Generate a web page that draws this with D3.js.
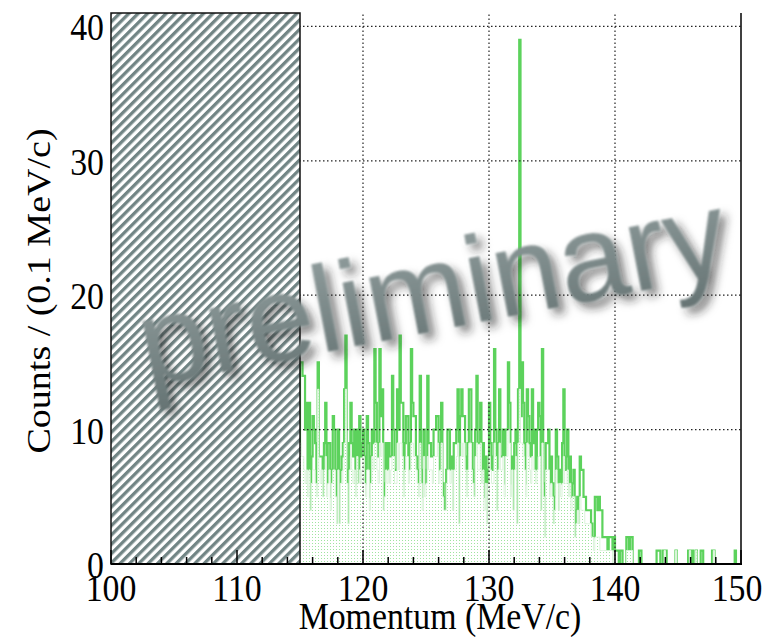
<!DOCTYPE html>
<html>
<head>
<meta charset="utf-8">
<script src="https://cdn.jsdelivr.net/npm/d3@7"></script>
<style>
  html, body { margin: 0; padding: 0; background: #fff; }
  svg { display: block; }
</style>
</head>
<body>
<svg id="chart" width="764" height="637"></svg>
<script>
// histogram bins: 0.1 MeV/c wide, starting at 115 MeV/c
const binStart = 115;
const binWidth = 0.1;

// all events (dark green outline)
const countsAll = [
  15,15,14,14,10,12,7,12,4,8,
  11,10,9,6,15,8,8,8,5,9,
  12,6,9,9,5,7,11,10,7,3,
  10,3,7,8,9,13,17,7,3,9,
  12,9,8,10,6,10,6,11,8,9,
  10,8,6,11,9,5,8,10,9,16,
  12,9,8,16,11,13,4,6,9,7,
  9,8,8,14,10,7,7,13,10,17,
  12,12,6,9,11,11,7,9,16,12,
  11,11,8,7,6,14,7,5,10,6,
  7,14,9,9,8,8,10,10,11,11,
  7,9,12,6,5,4,7,10,10,7,
  8,4,9,9,10,13,3,11,13,11,
  11,8,6,9,13,13,9,7,5,10,
  14,9,9,12,7,9,5,8,3,7,
  12,9,7,8,16,10,4,9,13,8,
  8,10,6,10,10,15,12,6,8,4,
  9,10,3,13,39,11,15,12,9,6,
  13,11,9,8,13,9,10,7,10,12,
  11,4,16,6,2,9,9,10,6,8,
  6,3,5,10,8,4,7,6,9,13,
  7,8,10,6,8,5,6,7,2,4,
  5,3,8,7,7,5,5,4,4,4,
  4,3,2,2,5,5,4,5,4,4,
  2,2,2,2,1,2,2,2,1,2,
  1,1,1,0,1,1,0,0,0,2,
  2,1,2,2,0,0,0,0,0,1,
  1,0,0,0,0,0,0,0,0,0,
  0,0,0,1,1,1,0,0,1,1,
  1,0,0,0,0,0,0,0,1,0,
  0,0,0,0,0,0,0,0,1,1,
  0,1,0,0,1,0,0,0,1,1,
  0,0,0,0,0,0,0,1,1,0,
  0,0,0,0,0,0,0,0,0,0,
  0,0,0,0,0,1,0,0,0,0
];

// selected events (light dotted fill)
const countsSel = [
  9,8,8,7,6,7,5,7,4,6,
  7,7,6,5,13,7,6,7,5,7,
  8,5,6,7,4,6,7,7,5,3,
  7,3,6,6,7,9,13,6,3,7,
  8,7,6,7,5,8,6,7,6,7,
  8,6,5,7,7,4,6,8,7,9,
  9,7,6,9,8,9,4,5,7,6,
  7,6,7,8,8,6,6,9,7,9,
  9,8,5,7,8,8,6,7,9,9,
  8,8,7,6,5,9,6,4,8,5,
  6,8,7,7,7,6,8,8,8,9,
  6,7,9,5,4,4,6,7,7,6,
  7,4,7,7,8,9,3,8,9,8,
  9,7,5,7,9,9,7,6,5,8,
  9,7,7,9,6,7,4,6,3,6,
  8,7,6,6,9,8,4,7,9,7,
  7,8,5,8,8,10,9,5,7,4,
  7,8,3,9,13,9,9,8,7,5,
  9,8,7,6,8,7,7,6,7,8,
  8,4,9,5,2,7,7,7,5,6,
  5,3,4,7,6,4,6,5,6,8,
  6,6,7,5,6,4,5,5,2,3,
  4,3,5,4,4,4,3,3,3,3,
  3,2,2,1,2,2,2,2,1,1,
  1,1,1,1,1,1,1,1,0,1,
  0,0,0,0,0,0,0,0,0,1,
  1,1,1,1,0,0,0,0,0,0,
  0,0,0,0,0,0,0,0,0,0,
  0,0,0,0,0,0,0,0,0,1,
  0,0,0,0,0,0,0,0,1,0,
  0,0,0,0,0,0,0,0,0,1,
  0,0,0,0,1,0,0,0,0,0,
  0,0,0,0,0,0,0,0,1,0,
  0,0,0,0,0,0,0,0,0,0,
  0,0,0,0,0,0,0,0,0,0
];

const xTicks = [100, 110, 120, 130, 140, 150];
const yTicks = [0, 10, 20, 30, 40];
const xDomain = [100, 150];
const yDomain = [0, 41];
const excluded = [100, 115]; // hatched region

const svg = d3.select("#chart");
const x = d3.scaleLinear().domain(xDomain).range([111, 741]);
const y = d3.scaleLinear().domain(yDomain).range([564, 13]);

const defs = svg.append("defs");

// hatch pattern "/"
const hatch = defs.append("pattern")
  .attr("id", "hatch")
  .attr("patternUnits", "userSpaceOnUse")
  .attr("width", 6.6).attr("height", 10)
  .attr("patternTransform", "rotate(45)");
hatch.append("rect").attr("width", 6.6).attr("height", 10).attr("fill", "#fff");
hatch.append("rect").attr("width", 3.3).attr("height", 10).attr("fill", "#728585");

// dotted fill pattern
const dots = defs.append("pattern")
  .attr("id", "dots")
  .attr("patternUnits", "userSpaceOnUse")
  .attr("width", 3).attr("height", 3);
dots.append("rect").attr("width", 3).attr("height", 3).attr("fill", "#fff");
dots.append("rect").attr("width", 1).attr("height", 1).attr("fill", "#9fe49f");

// shadow for watermark
const f = defs.append("filter").attr("id", "shadow")
  .attr("x", "-10%").attr("y", "-30%").attr("width", "120%").attr("height", "160%");
f.append("feGaussianBlur").attr("in", "SourceAlpha").attr("stdDeviation", 5).attr("result", "b");
f.append("feOffset").attr("in", "b").attr("dx", 5).attr("dy", 7).attr("result", "o");
f.append("feFlood").attr("flood-color", "#222").attr("flood-opacity", 0.6).attr("result", "c");
f.append("feComposite").attr("in", "c").attr("in2", "o").attr("operator", "in").attr("result", "s");
f.append("feGaussianBlur").attr("in", "SourceGraphic").attr("stdDeviation", 1.2).attr("result", "g");
const fm = f.append("feMerge");
fm.append("feMergeNode").attr("in", "s");
fm.append("feMergeNode").attr("in", "g");

const grad = defs.append("linearGradient").attr("id", "wmGrad")
  .attr("x1", 0).attr("y1", 0).attr("x2", 0).attr("y2", 1);
grad.append("stop").attr("offset", "0%").attr("stop-color", "#93a0a0");
grad.append("stop").attr("offset", "100%").attr("stop-color", "#667474");

// bin edges -> step points
function stepPoints(vals) {
  const pts = vals.map((v, i) => [binStart + i * binWidth, v]);
  pts.push([binStart + vals.length * binWidth, vals[vals.length - 1]]);
  return pts;
}

// all events, thick outline
const lineAll = d3.line()
  .x(d => x(d[0])).y(d => y(d[1]))
  .curve(d3.curveStepAfter);
const ptsAll = [[binStart, 0]].concat(stepPoints(countsAll));
ptsAll.push([binStart + countsAll.length * binWidth, 0]);
svg.append("path")
  .attr("d", lineAll(ptsAll))
  .attr("fill", "none")
  .attr("stroke", "#5cd25c")
  .attr("stroke-width", 2.2);

// selected events, dotted fill on top
const ptsSel = stepPoints(countsSel);
const areaSel = d3.area()
  .x(d => x(d[0])).y0(y(0)).y1(d => y(d[1]))
  .curve(d3.curveStepAfter);
svg.append("path")
  .attr("d", areaSel(ptsSel))
  .attr("fill", "url(#dots)");
svg.append("path")
  .attr("d", lineAll(ptsSel))
  .attr("fill", "none")
  .attr("stroke", "#dcf4dc")
  .attr("stroke-width", 1);

// grid
const grid = svg.append("g")
  .attr("stroke", "#222")
  .attr("stroke-width", 1.2)
  .attr("stroke-dasharray", "1.5,2.5");
grid.selectAll("line.gx").data(xTicks.slice(1, -1)).enter().append("line")
  .attr("x1", d => x(d)).attr("x2", d => x(d))
  .attr("y1", y(0)).attr("y2", y(yDomain[1]));
grid.selectAll("line.gy").data(yTicks.slice(1)).enter().append("line")
  .attr("x1", x(100)).attr("x2", x(150))
  .attr("y1", d => y(d)).attr("y2", d => y(d));

// hatched excluded region
svg.append("rect")
  .attr("x", x(excluded[0])).attr("y", y(yDomain[1]))
  .attr("width", x(excluded[1]) - x(excluded[0]))
  .attr("height", y(0) - y(yDomain[1]))
  .attr("fill", "url(#hatch)")
  .attr("stroke", "#111")
  .attr("stroke-width", 1.5);

// x axis ticks, pointing inside
const minor = d3.range(100, 151, 2);
svg.append("g").selectAll("line").data(minor).enter().append("line")
  .attr("x1", d => x(d)).attr("x2", d => x(d))
  .attr("y1", y(0))
  .attr("y2", d => y(0) - (d % 10 === 0 ? 14 : 7))
  .attr("stroke", "#000").attr("stroke-width", 1.5);
svg.append("line")
  .attr("x1", x(100)).attr("x2", x(150) + 1)
  .attr("y1", y(0)).attr("y2", y(0))
  .attr("stroke", "#000").attr("stroke-width", 2);
svg.append("line")
  .attr("x1", x(150)).attr("x2", x(150))
  .attr("y1", y(0)).attr("y2", y(yDomain[1]))
  .attr("stroke", "#000").attr("stroke-width", 1.5);

// tick labels (slightly condensed serif, as in the original)
const font = "'Liberation Serif', 'Times New Roman', serif";
const squeeze = 0.89;
svg.append("g").selectAll("text").data(xTicks).enter().append("text")
  .attr("transform", d => "translate(" + Math.min(x(d), 737) + ",601) scale(" + squeeze + ",1)")
  .attr("text-anchor", "middle")
  .style("font-family", font).style("font-size", "38px")
  .text(d => d);
svg.append("g").selectAll("text").data(yTicks).enter().append("text")
  .attr("transform", d => "translate(104," + (y(d) + 14) + ") scale(" + squeeze + ",1)")
  .attr("text-anchor", "end")
  .style("font-family", font).style("font-size", "38px")
  .text(d => d);

// axis titles
svg.append("text")
  .attr("transform", "translate(440,629) scale(" + squeeze + ",1)")
  .attr("text-anchor", "middle")
  .style("font-family", font).style("font-size", "38px")
  .text("Momentum (MeV/c)");
svg.append("text")
  .attr("transform", "translate(50,291) scale(" + squeeze + ",1) rotate(-90)")
  .attr("text-anchor", "middle")
  .style("font-family", font).style("font-size", "38px")
  .text("Counts / (0.1 MeV/c)");

// watermark
svg.append("text")
  .attr("transform", "translate(440,330) rotate(-11)")
  .attr("text-anchor", "middle")
  .attr("fill", "url(#wmGrad)")
  .attr("filter", "url(#shadow)")
  .style("font-family", "'Liberation Sans', Arial, sans-serif")
  .style("font-size", "122px")
  .text("preliminary");
</script>
</body>
</html>
